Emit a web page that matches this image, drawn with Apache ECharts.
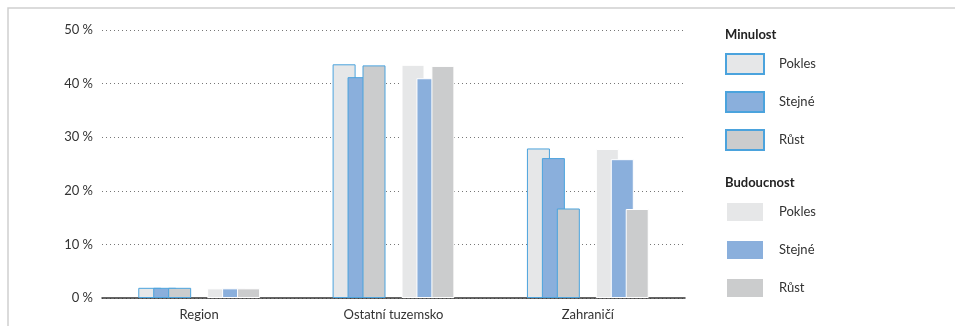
<!DOCTYPE html>
<html>
<head>
<meta charset="utf-8">
<script src="https://cdn.jsdelivr.net/npm/echarts@6/dist/echarts.min.js"></script>
<style>
  html, body { margin: 0; padding: 0; background: #fff; }
  #chart { width: 955px; height: 326px; }
</style>
</head>
<body>
<div id="chart"></div>
<script>
var categories = ['Region', 'Ostatní tuzemsko', 'Zahraničí'];
var yTicks = [0, 10, 20, 30, 40, 50];

// Minulost (past)
var pastPokles = [1.9, 43.6, 27.9];
var pastStejne = [1.9, 41.2, 26.1];
var pastRust = [1.9, 43.4, 16.7];

// Budoucnost (future)
var futPokles = [1.8, 43.5, 27.8];
var futStejne = [1.8, 41.0, 25.9];
var futRust = [1.8, 43.3, 16.6];

var colPokles = '#e6e7e8';
var colStejne = '#8aafdc';
var colRust = '#cbcccd';
var pastBorder = '#4ba3dd';

var font = 'Lato';

var chartDom = document.getElementById('chart');
var myChart = echarts.init(chartDom);

function barSeries(name, data, color, border) {
  return {
    name: name,
    type: 'bar',
    barWidth: 23,
    barGap: '-35%',
    data: data,
    itemStyle: {
      color: color,
      borderColor: border,
      borderWidth: 1
    },
    emphasis: { disabled: true }
  };
}

var series = [
  barSeries('Pokles', pastPokles, colPokles, pastBorder),
  barSeries('Stejné', pastStejne, colStejne, pastBorder),
  barSeries('Růst', pastRust, colRust, pastBorder),
  // empty spacer column between the two groups
  {
    name: 'spacer',
    type: 'bar',
    barWidth: 37,
    barGap: '-35%',
    data: [null, null, null],
    itemStyle: { color: 'rgba(0,0,0,0)' }
  },
  barSeries('Pokles ', futPokles, colPokles, '#ffffff'),
  barSeries('Stejné ', futStejne, colStejne, '#ffffff'),
  barSeries('Růst ', futRust, colRust, '#ffffff')
];

var legendBase = {
  orient: 'vertical',
  left: 725,
  itemWidth: 38,
  itemHeight: 20,
  itemGap: 16,
  icon: 'rect',
  selectedMode: false,
  textStyle: { fontFamily: font, fontSize: 13, color: '#333', padding: [0, 0, 0, 10] },
  padding: 0
};

var option = {
  animation: false,
  backgroundColor: '#fff',
  grid: { left: 102, right: 270, top: 30, bottom: 28 },
  legend: [
    Object.assign({}, legendBase, {
      top: 53,
      data: ['Pokles', 'Stejné', 'Růst']
    }),
    Object.assign({}, legendBase, {
      top: 201,
      data: ['Pokles ', 'Stejné ', 'Růst '],
      formatter: function (n) { return n.trim(); }
    })
  ],
  graphic: [
    {
      type: 'polyline',
      shape: { points: [[8, 326], [8, 8], [955, 8]] },
      style: { stroke: '#cfcfcf', lineWidth: 1.5, fill: null }
    },
    {
      type: 'text', left: 725, top: 28,
      style: { text: 'Minulost', font: 'bold 13px ' + font, fill: '#222' }
    },
    {
      type: 'text', left: 725, top: 176,
      style: { text: 'Budoucnost', font: 'bold 13px ' + font, fill: '#222' }
    }
  ],
  xAxis: {
    type: 'category',
    data: categories,
    axisTick: { show: false },
    axisLine: { lineStyle: { color: '#333', width: 1.5 } },
    axisLabel: { fontFamily: font, fontSize: 13, color: '#333', margin: 10 }
  },
  yAxis: {
    type: 'value',
    min: yTicks[0],
    max: yTicks[yTicks.length - 1],
    interval: 10,
    axisLine: { show: false },
    axisTick: { show: false },
    axisLabel: {
      fontFamily: font, fontSize: 13, color: '#333', margin: 9,
      formatter: function (v) { return v + ' %'; }
    },
    splitLine: {
      lineStyle: { color: '#777', type: [1, 3], width: 1 }
    }
  },
  series: series
};

option && myChart.setOption(option);
</script>
</body>
</html>
